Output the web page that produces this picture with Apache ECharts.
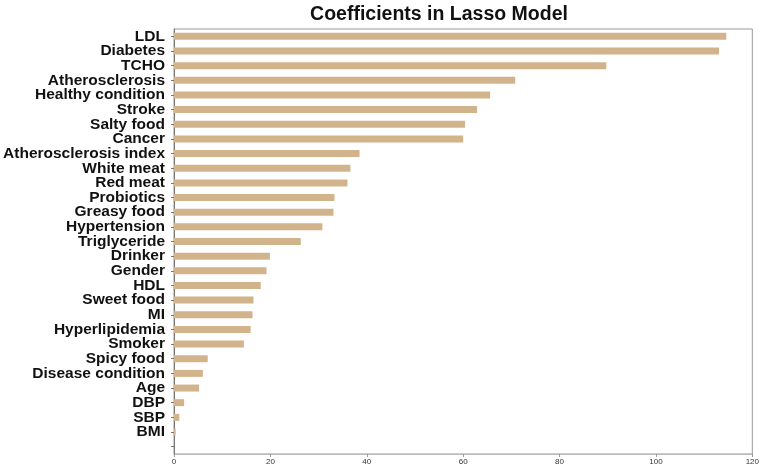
<!DOCTYPE html>
<html>
<head>
<meta charset="utf-8">
<script src="https://cdn.jsdelivr.net/npm/echarts@6/dist/echarts.min.js"></script>
<style>
  html, body { margin: 0; padding: 0; background: #fff; }
  #chart { width: 762px; height: 475px; }
</style>
</head>
<body>
<div id="chart"></div>
<script>
// variables, top to bottom (last slot is empty in the original)
const features = ['LDL', 'Diabetes', 'TCHO', 'Atherosclerosis', 'Healthy condition', 'Stroke',
  'Salty food', 'Cancer', 'Atherosclerosis index', 'White meat', 'Red meat', 'Probiotics',
  'Greasy food', 'Hypertension', 'Triglyceride', 'Drinker', 'Gender', 'HDL', 'Sweet food',
  'MI', 'Hyperlipidemia', 'Smoker', 'Spicy food', 'Disease condition', 'Age', 'DBP', 'SBP', 'BMI', ''];
const coefficients = [114.6, 113.1, 89.7, 70.8, 65.6, 62.9,
  60.4, 60.0, 38.5, 36.6, 36.0, 33.3,
  33.1, 30.8, 26.3, 19.9, 19.2, 18.0, 16.5,
  16.3, 15.9, 14.5, 7.0, 6.0, 5.2, 2.1, 1.1, 0.35, 0];
const xTicks = [0, 20, 40, 60, 80, 100, 120];

const chart = echarts.init(document.getElementById('chart'));
chart.setOption({
  animation: false,
  title: {
    text: 'Coefficients in Lasso Model',
    left: 434,
    textAlign: 'center',
    top: 0,
    textStyle: { fontFamily: 'Liberation Sans', fontSize: 19.5, fontWeight: 'bold', color: '#111' }
  },
  grid: {
    left: 174, right: 8, top: 29, bottom: 21,
    show: true,
    borderColor: '#999',
    borderWidth: 1
  },
  xAxis: {
    type: 'value',
    min: xTicks[0],
    max: xTicks[xTicks.length - 1],
    interval: 20,
    splitLine: { show: false },
    axisLine: { show: true, lineStyle: { color: '#bbb' } },
    axisTick: { show: true, length: 3, lineStyle: { color: '#999' } },
    axisLabel: { fontFamily: 'Liberation Sans', fontSize: 8, color: '#333', margin: 4 }
  },
  yAxis: {
    type: 'category',
    inverse: true,
    data: features,
    axisLine: { show: true, lineStyle: { color: '#777' } },
    axisTick: { show: true, alignWithLabel: true, length: 3, lineStyle: { color: '#777' } },
    axisLabel: {
      interval: 0,
      fontFamily: 'Liberation Sans',
      fontSize: 15.5,
      fontWeight: 'bold',
      color: '#111',
      margin: 9
    }
  },
  series: [{
    type: 'bar',
    data: coefficients,
    barWidth: 7,
    itemStyle: { color: '#D2B48C' }
  }]
});
</script>
</body>
</html>
